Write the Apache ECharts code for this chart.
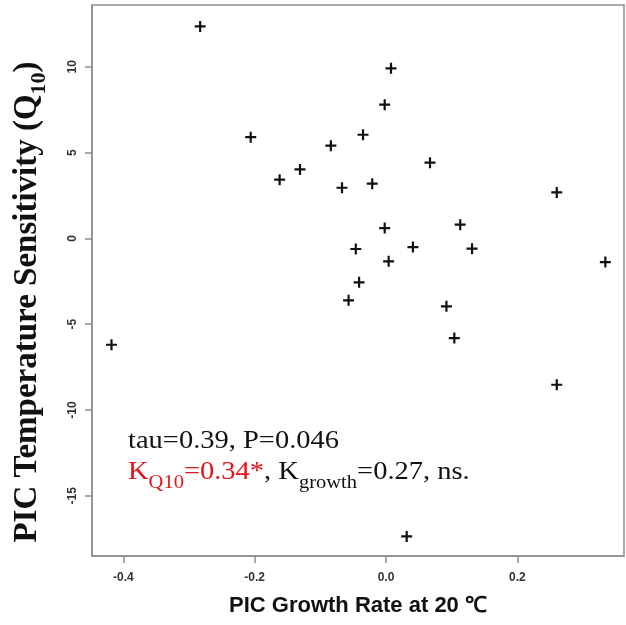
<!DOCTYPE html>
<html>
<head>
<meta charset="utf-8">
<script src="https://cdn.jsdelivr.net/npm/echarts@6/dist/echarts.min.js"></script>
<style>
html,body{margin:0;padding:0;background:#fff;}
#chart{width:626px;height:625px;}
</style>
</head>
<body>
<div id="chart"></div>
<script>
// ---- data ----
const growthRate = [-0.283, -0.206, -0.162, -0.131, 0.0076, -0.002, -0.035, -0.084, 0.067, -0.067, -0.021, 0.260, -0.002,
  0.113, -0.046, 0.041, 0.131, 0.004, 0.334, -0.041, -0.057, 0.092, 0.104, 0.260, 0.0315, -0.418];
const q10Sensitivity = [12.35, 5.90, 3.42, 4.02, 9.91, 7.79, 6.04, 5.40, 4.41, 2.95, 3.19, 2.68, 0.60,
  0.80, -0.62, -0.51, -0.60, -1.34, -1.38, -2.56, -3.61, -3.96, -5.81, -8.53, -17.37, -6.20];
const xTickValues = [-0.4, -0.2, 0.0, 0.2];
const yTickValues = [-15, -10, -5, 0, 5, 10];
const xTitle = 'PIC Growth Rate at 20 ℃';
const yTitleMain = 'PIC Temperature Sensitivity (Q';
const yTitleSub = '10';
const statLine1 = 'tau=0.39, P=0.046';

const points = growthRate.map((x, i) => [x, q10Sensitivity[i]]);

const axisGray = '#8f8f8f';
const tickFont = {fontFamily: 'Liberation Sans', fontWeight: 'bold', fontSize: 12, color: '#333'};
const serif = 'Liberation Serif';

const chart = echarts.init(document.getElementById('chart'), null, {renderer: 'canvas'});
chart.setOption({
  animation: false,
  backgroundColor: '#fff',
  grid: {left: 92, right: 2, top: 5, bottom: 69, show: true, borderColor: axisGray, borderWidth: 1.5, backgroundColor: 'transparent'},
  xAxis: {
    type: 'value', min: -0.4477, max: 0.3624,
    splitLine: {show: false},
    axisLine: {show: true, onZero: false, lineStyle: {color: axisGray, width: 1.5}},
    axisTick: {show: true, length: 7, lineStyle: {color: axisGray, width: 1.5}, customValues: xTickValues},
    axisLabel: Object.assign({margin: 16, customValues: xTickValues, formatter: v => v.toFixed(1)}, tickFont),
    name: xTitle, nameLocation: 'middle', nameGap: 39,
    nameTextStyle: {fontFamily: 'Liberation Sans', fontWeight: 'bold', fontSize: 22, color: '#111'}
  },
  yAxis: {
    type: 'value', min: -18.51, max: 13.6,
    splitLine: {show: false},
    axisLine: {show: true, onZero: false, lineStyle: {color: axisGray, width: 1.5}},
    axisTick: {show: true, length: 7, lineStyle: {color: axisGray, width: 1.5}, customValues: yTickValues},
    axisLabel: Object.assign({margin: 13, rotate: 90, customValues: yTickValues, formatter: v => String(v)}, tickFont)
  },
  series: [{
    type: 'scatter',
    data: points,
    symbol: 'path://M4,0h2v4h4v2h-4v4h-2v-4h-4v-2h4z',
    symbolSize: 11,
    itemStyle: {color: '#111', opacity: 1},
    silent: true
  }],
  graphic: [
    {
      type: 'text', x: 28.5, y: 302, rotation: Math.PI / 2, silent: true,
      style: {
        text: '{m|' + yTitleMain + '}{s|' + yTitleSub + '}{m|)}',
        align: 'center', verticalAlign: 'middle',
        rich: {
          m: {fontFamily: serif, fontWeight: 'bold', fontSize: 33, lineHeight: 36, verticalAlign: 'top', fill: '#111'},
          s: {fontFamily: serif, fontWeight: 'bold', fontSize: 22, lineHeight: 24, padding: [18, 0, 0, 0], verticalAlign: 'top', fill: '#111'}
        }
      }
    },
    {
      type: 'text', x: 128, y: 441.7, scaleX: 1.14, silent: true,
      style: {text: statLine1, fontFamily: serif, fontSize: 25, fill: '#111', align: 'left', verticalAlign: 'middle'}
    },
    {
      type: 'text', x: 128, y: 459.7, scaleX: 1.14, silent: true,
      style: {
        text: '{r|K}{rs|Q10}{r|=0.34*}{k|, K}{ks|growth}{k|=0.27, ns.}',
        align: 'left', verticalAlign: 'top',
        rich: {
          r: {fontFamily: serif, fontSize: 25, lineHeight: 30, verticalAlign: 'top', fill: '#e0161b'},
          rs: {fontFamily: serif, fontSize: 18, lineHeight: 20, padding: [15, 0, 0, 0], verticalAlign: 'top', fill: '#e0161b'},
          k: {fontFamily: serif, fontSize: 25, lineHeight: 30, verticalAlign: 'top', fill: '#111'},
          ks: {fontFamily: serif, fontSize: 18, lineHeight: 20, padding: [15, 0, 0, 0], verticalAlign: 'top', fill: '#111'}
        }
      }
    }
  ]
});
</script>
</body>
</html>
